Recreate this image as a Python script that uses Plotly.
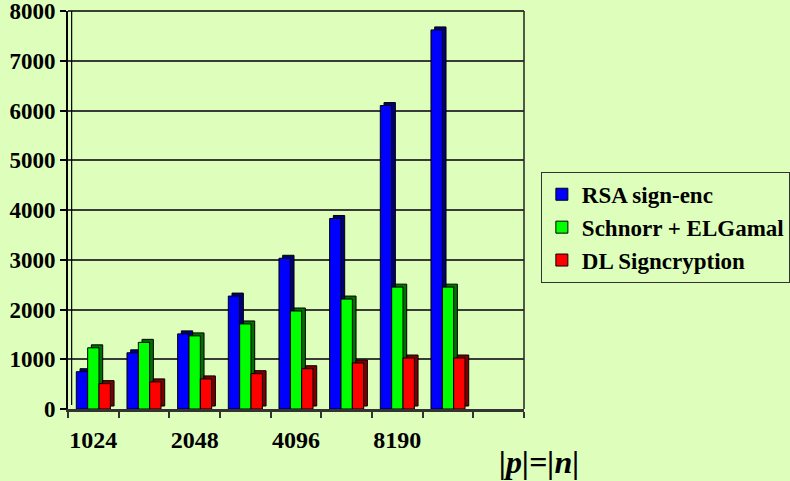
import plotly.graph_objects as go

# Key sizes (bits); only every other group carries a label on the axis
group_pos = [0, 1, 2, 3, 4, 5, 6, 7]
tick_pos = [0, 2, 4, 6]
tick_labels = ["1024", "2048", "4096", "8190"]

series_names = ["RSA sign-enc", "Schnorr + ELGamal", "DL Signcryption"]
rsa_vals = [750, 1130, 1510, 2270, 3030, 3830, 6100, 7620]
schnorr_vals = [1230, 1340, 1470, 1710, 1970, 2210, 2450, 2450]
dl_vals = [510, 545, 605, 710, 810, 925, 1025, 1025]

front_colors = ["#0000FF", "#00FF00", "#FF0000"]
side_colors = ["#00007A", "#007000", "#7A0000"]

BG = "#DDFFBB"
FONT = "Liberation Serif"

bar_w = 0.224          # width of one bar (category units)
start = -0.336         # left edge of the first bar relative to the group centre
depth_x = 0.073        # 3D depth, horizontal (category units)
depth_y = 60           # 3D depth, vertical (value units)

all_vals = [rsa_vals, schnorr_vals, dl_vals]
fig = go.Figure()

# shaded side/top faces, drawn behind the front faces
for i, vals in enumerate(all_vals):
    fig.add_trace(go.Bar(
        x=group_pos, y=vals, base=depth_y,
        width=bar_w, offset=start + i * bar_w + depth_x,
        marker=dict(color=side_colors[i], line=dict(color="#000000", width=1)),
        showlegend=False, hoverinfo="skip",
    ))

# front faces
for i, vals in enumerate(all_vals):
    fig.add_trace(go.Bar(
        x=group_pos, y=vals, name=series_names[i],
        width=bar_w, offset=start + i * bar_w,
        marker=dict(color=front_colors[i], line=dict(color="#000000", width=1)),
    ))

fig.update_layout(
    width=790, height=481,
    barmode="overlay",
    paper_bgcolor=BG, plot_bgcolor=BG,
    margin=dict(l=68, r=266, t=10.5, b=71.5, autoexpand=False),
    font=dict(family=FONT, size=23, color="#000000"),
    xaxis=dict(
        range=[-0.5, 8.5],
        tickvals=tick_pos, ticktext=tick_labels,
        ticks="", showgrid=False, zeroline=False,
        showline=True, linecolor="#333333", linewidth=3,
        tickfont=dict(family=FONT, size=24, color="#000000", weight="bold"),
        ticklabelstandoff=7,
        automargin=False,
        minor=dict(tick0=-0.5, dtick=1, ticks="outside", ticklen=6,
                   tickcolor="#333333", tickwidth=1.5, showgrid=False),
    ),
    yaxis=dict(
        range=[0, 8000], dtick=1000,
        showgrid=True, gridcolor="#3a3a3a", gridwidth=1.5,
        zeroline=False,
        showline=True, linecolor="#000000", linewidth=2,
        ticks="outside", ticklen=6, tickcolor="#000000", tickwidth=1.5,
        tickfont=dict(family=FONT, size=23, color="#000000", weight="bold"),
        ticklabeloverflow="allow",
        automargin=False,
    ),
    legend=dict(
        x=1.037, y=0.596, xanchor="left", yanchor="top",
        bgcolor=BG, bordercolor="#333333", borderwidth=1,
        font=dict(family=FONT, size=23, color="#000000", weight="bold"),
        tracegroupgap=0,
    ),
    shapes=[
        # top and right frame of the plotting area
        dict(type="line", xref="paper", yref="paper", x0=0, x1=1, y0=1, y1=1,
             line=dict(color="#000000", width=1.5)),
        dict(type="line", xref="paper", yref="paper", x0=1, x1=1, y0=0, y1=1,
             line=dict(color="#222222", width=1.5)),
        # inner edge of the back wall
        dict(type="line", xref="paper", yref="paper", x0=0.008, x1=0.008, y0=0.01, y1=1,
             line=dict(color="#000000", width=1.2)),
    ],
    annotations=[
        dict(text="<b><i>|p|=|n|</i></b>", xref="paper", yref="paper",
             x=1.032, y=-0.132, xanchor="center", yanchor="middle",
             showarrow=False, font=dict(family=FONT, size=32, color="#000000")),
    ],
)

fig.write_html("out.html")
